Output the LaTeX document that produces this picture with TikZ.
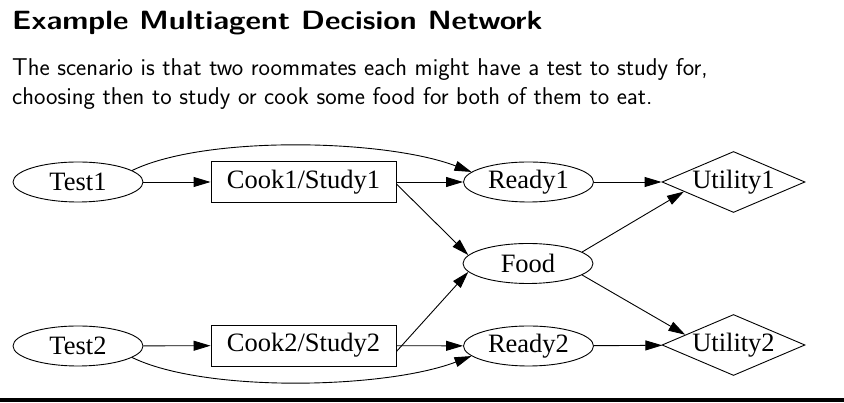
\documentclass[tikz,border=0pt]{standalone}
\usepackage{fontspec}
\usepackage{graphicx}
\newfontfamily\graphfont{Liberation Serif}
\usetikzlibrary{shapes.geometric,arrows.meta}
\newcommand{\titlescale}[1]{\scalebox{3.01}[2.64]{#1}}
\begin{document}
\begin{tikzpicture}[x=1pt,y=1pt,
  every node/.style={inner sep=0pt},
  chance/.style={ellipse,draw,line width=0.9pt,minimum width=130pt,minimum height=40pt,font=\graphfont\fontsize{26.5}{30}\selectfont},
  decision/.style={rectangle,draw,line width=0.9pt,minimum width=185pt,minimum height=41pt,font=\graphfont\fontsize{26.5}{30}\selectfont},
  utility/.style={diamond,draw,line width=0.9pt,minimum width=143pt,minimum height=61pt,aspect=2.3,font=\graphfont\fontsize{26.5}{30}\selectfont},
  arr/.style={line width=0.9pt,-{Triangle[length=17pt,width=10pt]}},
  titletext/.style={anchor=base west,font=\sffamily\bfseries\fontsize{10}{12}\selectfont},
  bodytext/.style={anchor=base west,font=\sffamily\fontsize{24.3}{29}\selectfont}]
\useasboundingbox (0,0) rectangle (844,403);
% texts
\node[titletext] (title) at (12,373) {\titlescale{Example Multiagent Decision Network}};
\node[bodytext] (line1) at (12,327) {The scenario is that two roommates each might have a test to study for,};
\node[bodytext] (line2) at (12,298) {choosing then to study or cook some food for both of them to eat.};
% nodes
\node[chance] (Test1) at (78,221) {Test1};
\node[decision] (Cook1) at (303.5,221) {Cook1/Study1};
\node[chance] (Ready1) at (528.5,221) {Ready1};
\node[utility] (Utility1) at (733.5,221) {Utility1};
\node[chance] (Food) at (528,139.5) {Food};
\node[chance] (Test2) at (78,57) {Test2};
\node[decision] (Cook2) at (303.5,57.5) {Cook2/Study2};
\node[chance] (Ready2) at (528.5,57) {Ready2};
\node[utility] (Utility2) at (733.5,58) {Utility2};
% edges
\draw[arr] (Test1) -- (Cook1);
\draw[arr] (Test2) -- (Cook2);
\draw[arr] (Cook1) -- (Ready1);
\draw[arr] (Cook2) -- (Ready2);
\draw[arr] (Ready1) -- (Utility1);
\draw[arr] (Ready2) -- (Utility2);
\draw[arr] (Test1.12) .. controls (205,268) and (385,264) .. (Ready1.170);
\draw[arr] (Test2.-12) .. controls (205,10) and (385,14) .. (Ready2.-170);
\draw[arr] ([yshift=-2pt]Cook1.east) -- (Food.172);
\draw[arr] ([yshift=-6pt]Cook2.east) -- (Food.188);
\draw[arr] (Food.12) -- (Utility1.191);
\draw[arr] (Food.-12) -- (Utility2.168);
% bottom rule
\fill (0,1) rectangle (844,5);
\end{tikzpicture}
\end{document}
